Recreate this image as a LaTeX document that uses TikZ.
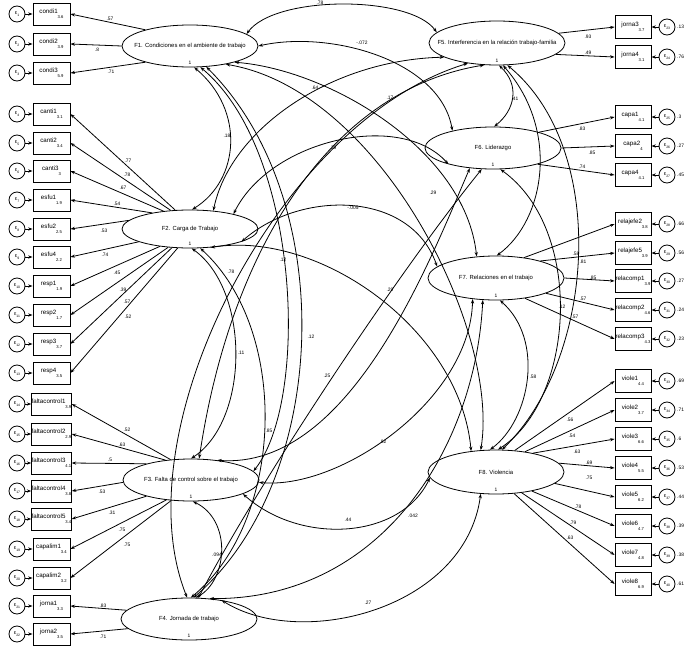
\documentclass[tikz,border=0pt]{standalone}
\usepackage{fontspec}
\setmainfont{Liberation Sans}
\usetikzlibrary{arrows.meta,shapes.geometric}
\newcommand\obsx[2]{#1\raisebox{-5pt}{\fontsize{4.2}{4.5}\selectfont #2}}
\newcommand\epsx[1]{ε\raisebox{-1.3pt}{\fontsize{3.4}{3.5}\selectfont #1}}
\tikzset{
 lat/.style={ellipse, draw, line width=0.8pt, minimum width=136pt, minimum height=42pt, inner sep=0pt, font=\fontsize{5.9}{6}\selectfont},
 obs/.style={rectangle, draw, line width=0.8pt, minimum width=37pt, minimum height=22pt, inner sep=0pt, font=\fontsize{6.2}{6.5}\selectfont},
 err/.style={circle, draw, line width=0.8pt, minimum size=16pt, inner sep=0pt, font=\fontsize{5.4}{5.5}\selectfont},
 lbl/.style={inner sep=0pt, font=\fontsize{4.9}{5}\selectfont},
 ld/.style={line width=0.8pt, -{Stealth[length=4.5pt,width=3.2pt]}},
 cv/.style={line width=0.8pt, {Stealth[length=4.5pt,width=3.2pt]}-{Stealth[length=4.5pt,width=3.2pt]}},
}
\newcommand\lobs[4]{\node[obs] (#1) at (51.5,#2) {\obsx{#1}{#3}}; \node[err] (e#4) at (17,#2) {\epsx{#4}}; \draw[ld] (e#4) -- (#1);}
\newcommand\robs[5]{\node[obs,minimum width=36pt,minimum height=23pt] (#1) at (633,#2) {\obsx{#1}{#3}}; \node[err] (e#4) at (667,#2) {\epsx{#4}}; \draw[ld] (e#4) -- (#1); \node[lbl,anchor=west] (v#4) at (677,#2) {#5};}
\newcommand\lab[3]{\node[lbl] (#1) at (#2) {#3};}
\begin{document}
\begin{tikzpicture}[x=1pt,y=-1pt]
\useasboundingbox (0,0) rectangle (689,648);
% latent factors
\node[lat] (F1) at (190,46) {\makebox[0pt]{F1. Condiciones en el ambiente de trabajo}};
\node[lat,minimum height=38pt] (F2) at (190,229) {\makebox[0pt]{F2. Carga de Trabajo}};
\node[lat] (F3) at (191,480) {\makebox[0pt]{F3. Falta de control sobre el trabajo}};
\node[lat] (F4) at (189,619) {\makebox[0pt]{F4. Jornada de trabajo}};
\node[lat,minimum height=44pt] (F5) at (497,43) {\makebox[0pt]{F5. Interferencia en la relación trabajo-familia}};
\node[lat] (F6) at (493,148) {\makebox[0pt]{F6. Liderazgo}};
\node[lat,minimum height=44pt] (F7) at (496,278) {\makebox[0pt]{F7. Relaciones en el trabajo}};
\node[lat,minimum height=44pt] (F8) at (496,472) {\makebox[0pt]{F8. Violencia}};
\lab{o1}{190,63}{1}\lab{o2}{190,244}{1}\lab{o3}{191,497}{1}\lab{o4}{189,636}{1}
\lab{o5}{497,61}{1}\lab{o6}{493,165}{1}\lab{o7}{496,296}{1}\lab{o8}{496,490}{1}
% left indicators
\lobs{condi1}{14}{3.6}{1}
\lobs{condi2}{44}{3.9}{2}
\lobs{condi3}{73}{5.9}{3}
\lobs{canti1}{114}{3.1}{4}
\lobs{canti2}{143}{3.4}{5}
\lobs{canti3}{171}{3}{6}
\lobs{esfu1}{200}{1.9}{7}
\lobs{esfu2}{229}{2.5}{8}
\lobs{esfu4}{257}{2.2}{9}
\lobs{resp1}{286}{1.9}{10}
\lobs{resp2}{315}{1.7}{11}
\lobs{resp3}{344}{3.7}{12}
\lobs{resp4}{373}{3.5}{13}
\lobs{faltacontrol1}{404}{3.9}{14}
\lobs{faltacontrol2}{434}{2.9}{15}
\lobs{faltacontrol3}{463}{4.1}{16}
\lobs{faltacontrol4}{491}{3.8}{17}
\lobs{faltacontrol5}{519}{3.4}{18}
\lobs{capalim1}{549}{3.4}{19}
\lobs{capalim2}{578}{3.2}{20}
\lobs{jorna1}{606}{3.3}{21}
\lobs{jorna2}{634}{3.5}{22}
% right indicators
\robs{jorna3}{27}{3.7}{23}{.13}
\robs{jorna4}{57}{3.1}{24}{.76}
\robs{capa1}{117}{4.1}{25}{.3}
\robs{capa2}{146}{4}{26}{.27}
\robs{capa4}{175}{4.1}{27}{.45}
\robs{relajefe2}{224}{3.8}{28}{.66}
\robs{relajefe5}{253}{3.9}{29}{.56}
\robs{relacomp1}{281}{3.9}{30}{.27}
\robs{relacomp2}{310}{4.6}{31}{.24}
\robs{relacomp3}{339}{4.3}{32}{.23}
\robs{viole1}{381}{4.4}{33}{.69}
\robs{viole2}{410}{3.7}{34}{.71}
\robs{viole3}{439}{6.6}{35}{.6}
\robs{viole4}{468}{5.5}{36}{.53}
\robs{viole5}{497}{6.2}{37}{.44}
\robs{viole6}{526}{4.7}{38}{.39}
\robs{viole7}{555}{4.8}{39}{.38}
\robs{viole8}{584}{6.9}{40}{.61}
% loadings left
\draw[ld] (F1.160) -- (condi1.east);
\draw[ld] (F1.180) -- (condi2.east);
\draw[ld] (F1.200) -- (condi3.east);
\draw[ld] (F2.128) -- (canti1.east);
\draw[ld] (F2.136) -- (canti2.east);
\draw[ld] (F2.146) -- (canti3.east);
\draw[ld] (F2.157) -- (esfu1.east);
\draw[ld] (F2.172) -- (esfu2.east);
\draw[ld] (F2.194) -- (esfu4.east);
\draw[ld] (F2.210) -- (resp1.east);
\draw[ld] (F2.220) -- (resp2.east);
\draw[ld] (F2.226) -- (resp3.east);
\draw[ld] (F2.237) -- (resp4.east);
\draw[ld] (F3.135) -- (faltacontrol1.east);
\draw[ld] (F3.142) -- (faltacontrol2.east);
\draw[ld] (F3.160) -- (faltacontrol3.east);
\draw[ld] (F3.182) -- (faltacontrol4.east);
\draw[ld] (F3.200) -- (faltacontrol5.east);
\draw[ld] (F3.219) -- (capalim1.east);
\draw[ld] (F3.226) -- (capalim2.east);
\draw[ld] (F4.172) -- (jorna1.east);
\draw[ld] (F4.189) -- (jorna2.east);
% loadings right
\draw[ld] (F5.9) -- (jorna3.west);
\draw[ld] (F5.-11) -- (jorna4.west);
\draw[ld] (F6.19) -- (capa1.west);
\draw[ld] (F6.0) -- (capa2.west);
\draw[ld] (F6.-20) -- (capa4.west);
\draw[ld] (F7.36) -- (relajefe2.west);
\draw[ld] (F7.21) -- (relajefe5.west);
\draw[ld] (F7.0) -- (relacomp1.west);
\draw[ld] (F7.-17) -- (relacomp2.west);
\draw[ld] (F7.-35) -- (relacomp3.west);
\draw[ld] (F8.49) -- (viole1.west);
\draw[ld] (F8.35) -- (viole2.west);
\draw[ld] (F8.27) -- (viole3.west);
\draw[ld] (F8.8) -- (viole4.west);
\draw[ld] (F8.-11) -- (viole5.west);
\draw[ld] (F8.-28) -- (viole6.west);
\draw[ld] (F8.-39) -- (viole7.west);
\draw[ld] (F8.-50) -- (viole8.west);
% loading labels
\lab{a1}{110,19}{.57}\lab{a2}{97,50}{.8}\lab{a3}{111,72}{.71}
\lab{a4}{128,161}{.77}\lab{a5}{127,175}{.78}\lab{a6}{123,188}{.67}\lab{a7}{117,204}{.54}
\lab{a8}{104,231}{.53}\lab{a9}{105,255}{.74}\lab{a10}{117,273}{.45}\lab{a11}{123,290}{.39}
\lab{a12}{127,302}{.57}\lab{a13}{128,317}{.52}
\lab{a14}{127,430}{.52}\lab{a15}{122,445}{.63}\lab{a16}{110,460}{.5}\lab{a17}{102,492}{.53}
\lab{a18}{112,513}{.31}\lab{a19}{122,530}{.75}\lab{a20}{127,545}{.75}
\lab{a21}{103,606}{.83}\lab{a22}{103,637}{.71}
\lab{b1}{588,37}{.93}\lab{b2}{588,53}{.49}
\lab{b3}{582,129}{.83}\lab{b4}{592,153}{.85}\lab{b5}{582,167}{.74}
\lab{b6}{576,254}{.58}\lab{b7}{583,262}{.81}\lab{b8}{593,278}{.85}\lab{b9}{583,299}{.57}\lab{b10}{575,317}{.57}
\lab{b11}{570,420}{.56}\lab{b12}{572,436}{.54}\lab{b13}{577,452}{.63}\lab{b14}{589,463}{.69}
\lab{b15}{589,478}{.75}\lab{b16}{578,507}{.78}\lab{b17}{573,523}{.79}\lab{b18}{570,538}{.63}
% covariances
\draw[cv] (F1.12) .. controls (275,-5) and (410,-5) .. (F5.170);
\draw[cv] (F1.0) .. controls (330,30) and (440,60) .. (F6.157);
\draw[cv] (F1.-20) .. controls (330,70) and (465,150) .. (F7.132);
\draw[cv] (F1.-27) .. controls (380,90) and (500,330) .. (F8.125);
\draw[cv] (F1.-79) .. controls (245,110) and (240,180) .. (F2.84);
\draw[cv] (F1.-64) .. controls (300,150) and (310,400) .. (F3.8);
\draw[cv] (F1.-52) .. controls (340,200) and (330,480) .. (F4.78);
\draw[cv] (F2.-85) .. controls (250,290) and (250,420) .. (F3.90);
\draw[cv] (F2.-62) .. controls (290,330) and (285,520) .. (F4.85);
\draw[cv] (F2.38) .. controls (230,130) and (330,60) .. (F5.195);
\draw[cv] (F2.19) .. controls (270,140) and (400,110) .. (F6.-160);
\draw[cv] (F2.-14) .. controls (300,190) and (410,190) .. (F7.169);
\draw[cv] (F2.-42) .. controls (320,230) and (460,330) .. (F8.140);
\draw[cv] (F3.-85) .. controls (232,520) and (228,580) .. (F4.72);
\draw[cv] (F3.69) .. controls (230,250) and (330,90) .. (F5.-120);
\draw[cv] (F3.37) .. controls (350,470) and (430,260) .. (F6.-139);
\draw[cv] (F3.-2) .. controls (340,490) and (470,400) .. (F7.-138);
\draw[cv] (F3.-15) .. controls (300,545) and (400,540) .. (F8.185);
\draw[cv] (F4.95) .. controls (120,430) and (280,120) .. (F5.-145);
\draw[cv] (F4.66) .. controls (260,480) and (400,270) .. (F6.-118);
\draw[cv] (F4.45) .. controls (380,600) and (475,450) .. (F7.-121);
\draw[cv] (F4.30) .. controls (300,650) and (465,610) .. (F8.-125);
\draw[cv] (F5.-85) .. controls (520,85) and (515,110) .. (F6.87);
\draw[cv] (F5.-75) .. controls (560,130) and (545,220) .. (F7.88);
\draw[cv] (F5.-65) .. controls (610,150) and (595,360) .. (F8.75);
\draw[cv] (F6.-71) .. controls (585,230) and (575,400) .. (F8.85);
\draw[cv] (F7.-80) .. controls (545,340) and (530,420) .. (F8.105);
% covariance labels
\lab{c1}{320,3}{.78}\lab{c2}{362,43}{-.072}\lab{c3}{315,88}{.64}\lab{c4}{390,98}{.17}
\lab{c5}{515,99}{.41}\lab{c6}{227,136}{.18}\lab{c7}{333,148}{.29}\lab{c8}{433,193}{.29}
\lab{c9}{353,208}{-.005}\lab{c10}{231,272}{.78}\lab{c11}{283,260}{.12}\lab{c12}{390,290}{.29}
\lab{c13}{241,353}{.11}\lab{c14}{311,337}{.12}\lab{c15}{327,376}{.25}\lab{c16}{269,431}{.85}
\lab{c17}{383,442}{.82}\lab{c18}{348,520}{.44}\lab{c19}{413,516}{.042}\lab{c20}{368,603}{.27}
\lab{c21}{217,555}{.094}\lab{c22}{533,377}{.58}\lab{c23}{562,307}{.12}
\end{tikzpicture}
\end{document}
